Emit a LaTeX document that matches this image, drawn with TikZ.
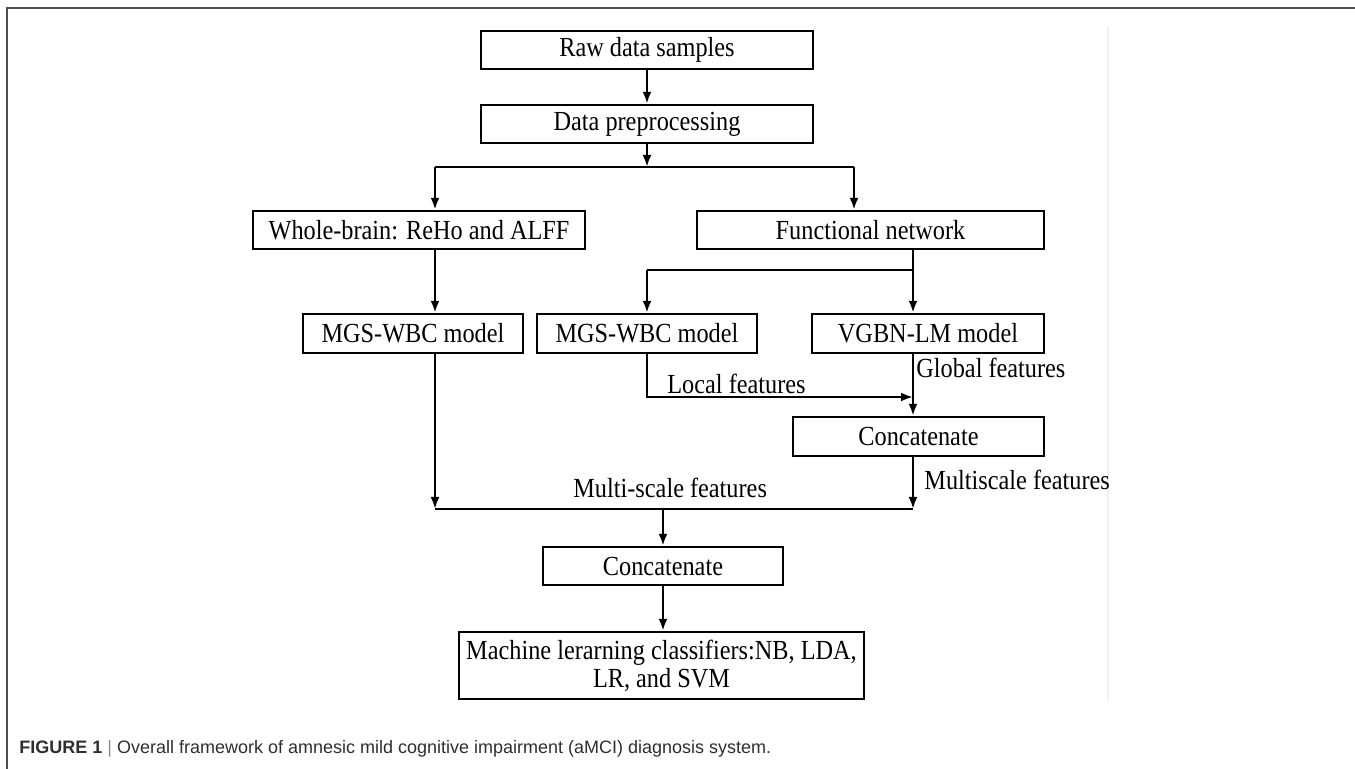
\documentclass[tikz,border=0pt]{standalone}
\usepackage{fontspec}
\setmainfont{Liberation Serif}[FakeStretch=0.88]
\newfontfamily\capfont{Liberation Sans}
\usetikzlibrary{arrows.meta, positioning, calc}
\definecolor{frameGray}{HTML}{4D4D4D}
\definecolor{capText}{HTML}{2E2E2E}

\begin{document}
\begin{tikzpicture}[x=0.5pt, y=-0.5pt,
    box/.style={rectangle, draw=black, line width=1.2pt, minimum height=19pt,
                inner sep=0pt, font=\fontsize{13.8}{14}\selectfont},
    flow/.style={draw=black, line width=1.3pt, -{Latex[length=6pt, width=4.5pt]}},
    link/.style={draw=black, line width=1.3pt},
    lbl/.style={font=\fontsize{13.8}{14}\selectfont, inner sep=0pt, anchor=base west},
  ]
    \useasboundingbox (0,0) rectangle (1355,769);
    % Figure frame (top and left only) and faint edge line
    \draw[frameGray, line width=1pt] (7,769) -- (7,8) -- (1355,8);
    \draw[black!6, line width=0.6pt] (1108,26) -- (1108,700);

    % Boxes
    \node[box, minimum width=166pt] (raw) at (647,50) {Raw data samples};
    \node[box, minimum width=166pt] (prep) at (647,124) {Data preprocessing};
    \node[box, minimum width=166pt] (whole) at (419,230) {Whole-brain: ReHo and ALFF};
    \node[box, minimum width=173.5pt] (func) at (870.5,230) {Functional network};
    \node[box, minimum width=110pt, minimum height=19.5pt] (mgsl) at (413,333.5) {MGS-WBC model};
    \node[box, minimum width=110pt, minimum height=19.5pt] (mgsm) at (647,333.5) {MGS-WBC model};
    \node[box, minimum width=116pt, minimum height=19.5pt] (vgbn) at (928,333.5) {VGBN-LM model};
    \node[box, minimum width=125.5pt, minimum height=19.5pt] (catr) at (918.5,436.5) {Concatenate};
    \node[box, minimum width=120pt] (catb) at (663,566) {Concatenate};
    \node[box, minimum width=202.5pt, minimum height=33.5pt, align=center] (clf) at (661.5,665.5)
      {Machine lerarning classifiers:NB, LDA,\\LR, and SVM};

    % Junction points
    \coordinate (split) at (647,167);
    \coordinate (sl) at (435,167);
    \coordinate (sr) at (854,167);
    \coordinate (bl) at (647,270);
    \coordinate (br) at (913,270);
    \coordinate (loc) at (913,397);
    \coordinate (ml) at (435,509);
    \coordinate (mc) at (663,509);
    \coordinate (mr) at (913,509);

    % Top trunk and first split
    \draw[flow] (raw) -- (prep);
    \draw[flow] (prep) -- (split);
    \draw[link] (sl) -- (sr);
    \draw[flow] (sl) -- (sl |- whole.north);
    \draw[flow] (sr) -- (sr |- func.north);

    % Left branch
    \draw[flow] (whole.south -| sl) -- (mgsl.north -| sl);
    \draw[flow] (mgsl.south -| ml) -- (ml);

    % Functional network branch
    \draw[link] (func.south -| br) -- (br) -- (bl);
    \draw[flow] (bl) -- (mgsm.north);
    \draw[flow] (br) -- (vgbn.north -| br);
    \draw[flow] (mgsm.south) |- (loc);
    \draw[flow] (vgbn.south -| br) -- (catr.north -| br);
    \draw[flow] (catr.south -| mr) -- (mr);

    % Merge and classification
    \draw[link] (ml) -- (mr);
    \draw[flow] (mc) -- (catb);
    \draw[flow] (catb.south) -- (clf.north -| catb.south);

    % Edge labels
    \node[lbl] (locl) at (667,394) {Local features};
    \node[lbl] (globl) at (916,378) {Global features};
    \node[lbl] (msl) at (924,490) {Multiscale features};
    \node[lbl] (mulsl) at (573,498) {Multi-scale features};

    % Caption
    \node[anchor=base west, inner sep=0pt, text=capText,
          font=\capfont\fontsize{9}{11}\selectfont] (cap) at (19,754)
      {\textbf{FIGURE 1} {\color{black!45}|} Overall framework of amnesic mild cognitive impairment (aMCI) diagnosis system.};
\end{tikzpicture}
\end{document}
